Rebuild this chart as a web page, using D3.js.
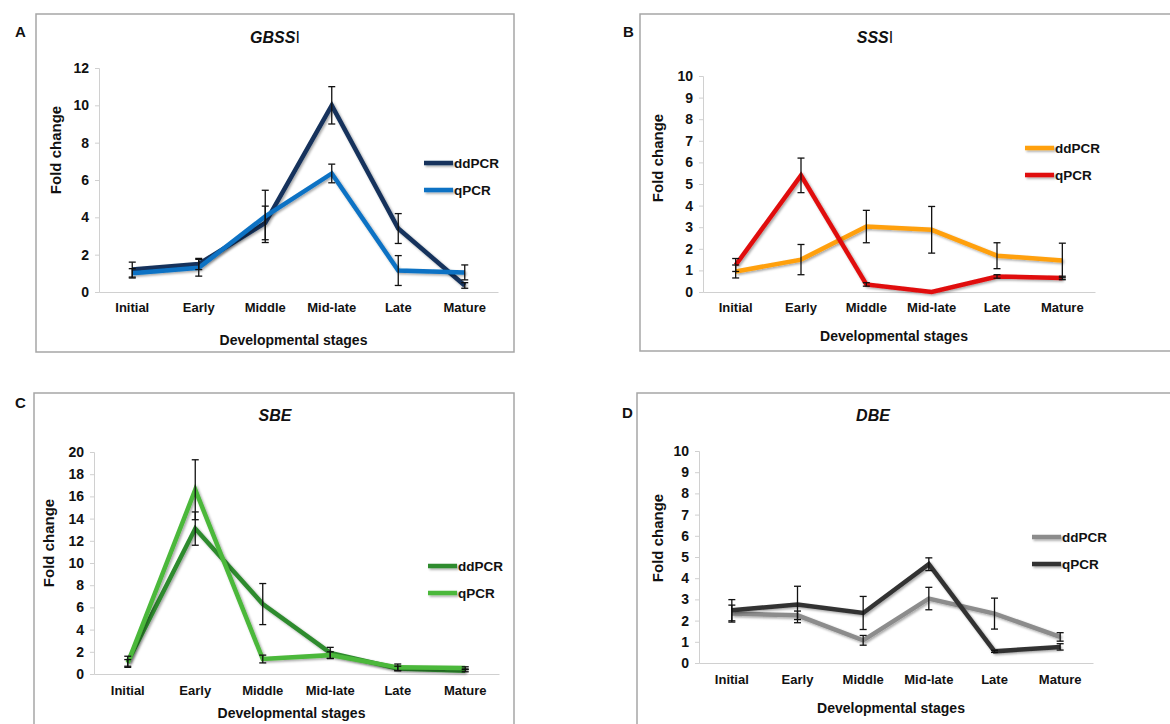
<!DOCTYPE html>
<html>
<head>
<meta charset="utf-8">
<script src="https://cdn.jsdelivr.net/npm/d3@7"></script>
<style>
  body { margin: 0; background: #fff; }
  svg { display: block; font-family: "Liberation Sans", Arial, sans-serif; }
  .tick text { font-weight: bold; font-size: 13px; fill: #111; }
  .yax .tick text { font-size: 14px; }
</style>
</head>
<body>
<script>
// stages on the x axis
var stages = ["Initial", "Early", "Middle", "Mid-late", "Late", "Mature"];

// A  GBSSI
var gbssDd = [1.2, 1.5, 3.7, 10.0, 3.4, 0.35];
var gbssDdErr = [0.4, 0.3, 0.9, 1.0, 0.8, 0.15];
var gbssQ = [1.0, 1.3, 4.05, 6.35, 1.15, 1.05];
var gbssQErr = [0.25, 0.45, 1.4, 0.5, 0.8, 0.4];

// B  SSSI
var sssDd = [0.95, 1.5, 3.03, 2.88, 1.68, 1.46];
var sssDdErr = [0.3, 0.7, 0.75, 1.08, 0.6, 0.8];
var sssQ = [1.25, 5.4, 0.35, 0.0, 0.72, 0.65];
var sssQErr = [0.3, 0.8, 0.08, 0.0, 0.08, 0.08];

// C  SBE
var sbeDd = [1.1, 13.1, 6.3, 1.9, 0.5, 0.3];
var sbeDdErr = [0.5, 1.5, 1.85, 0.5, 0.2, 0.1];
var sbeQ = [1.0, 16.6, 1.35, 1.7, 0.6, 0.55];
var sbeQErr = [0.3, 2.7, 0.35, 0.3, 0.3, 0.1];

// D  DBE
var dbeDd = [2.33, 2.25, 1.07, 3.04, 2.33, 1.23];
var dbeDdErr = [0.4, 0.2, 0.23, 0.53, 0.73, 0.2];
var dbeQ = [2.49, 2.76, 2.36, 4.66, 0.55, 0.76];
var dbeQErr = [0.5, 0.86, 0.78, 0.3, 0.05, 0.15];

var yTicksA = [0, 2, 4, 6, 8, 10, 12];
var yTicksB = [0, 1, 2, 3, 4, 5, 6, 7, 8, 9, 10];
var yTicksC = [0, 2, 4, 6, 8, 10, 12, 14, 16, 18, 20];
var yTicksD = [0, 1, 2, 3, 4, 5, 6, 7, 8, 9, 10];

var svg = d3.select("body").append("svg")
    .attr("width", 1170)
    .attr("height", 724);

// soft excel-ish shadow under the lines (user space so flat lines keep it)
var filt = svg.append("defs").append("filter").attr("id", "shadow")
    .attr("filterUnits", "userSpaceOnUse")
    .attr("x", 0).attr("y", 0).attr("width", 1170).attr("height", 724);
filt.append("feDropShadow").attr("dx", 1.5).attr("dy", 1.5)
    .attr("stdDeviation", 1.2).attr("flood-color", "#000").attr("flood-opacity", 0.35);

var panels = [
  {letter: "A", lx: 15, ly: 37, frame: [36, 14, 514, 352], title: "GBSS", titleTail: "I",
   tx: 275, ty: 43, x0: 99, x1: 498, y0: 292, y1: 68, max: 12, ticks: yTicksA,
   ylx: 61, yly: 150, xty: 345, tly: 313,
   dd: gbssDd, ddErr: gbssDdErr, q: gbssQ, qErr: gbssQErr,
   ddColor: "#14335c", qColor: "#0a72c4", legX: 424, legY: 163},
  {letter: "B", lx: 623, ly: 37, frame: [640, 14, 1190, 351], title: "SSS", titleTail: "I",
   tx: 875, ty: 43, x0: 703, x1: 1095, y0: 292, y1: 76, max: 10, ticks: yTicksB,
   ylx: 663, yly: 158, xty: 341, tly: 313,
   dd: sssDd, ddErr: sssDdErr, q: sssQ, qErr: sssQErr,
   ddColor: "#ffa010", qColor: "#e00c0c", legX: 1025, legY: 148},
  {letter: "C", lx: 15, ly: 408, frame: [34, 393, 514, 740], title: "SBE", titleTail: "",
   tx: 275, ty: 421, x0: 94, x1: 499, y0: 674, y1: 452, max: 20, ticks: yTicksC,
   ylx: 54, yly: 543, xty: 718, tly: 696,
   dd: sbeDd, ddErr: sbeDdErr, q: sbeQ, qErr: sbeQErr,
   ddColor: "#2e8b2e", qColor: "#4cb83a", legX: 428, legY: 566},
  {letter: "D", lx: 622, ly: 418, frame: [637, 393, 1190, 740], title: "DBE", titleTail: "",
   tx: 873, ty: 421, x0: 699, x1: 1093, y0: 663, y1: 451, max: 10, ticks: yTicksD,
   ylx: 663, yly: 538, xty: 713, tly: 685,
   dd: dbeDd, ddErr: dbeDdErr, q: dbeQ, qErr: dbeQErr,
   ddColor: "#8c8c8c", qColor: "#333333", legX: 1032, legY: 537}
];

panels.forEach(function(p) {
  var g = svg.append("g");

  g.append("text").attr("x", p.lx).attr("y", p.ly)
    .attr("font-weight", "bold").attr("font-size", 15).attr("fill", "#111")
    .text(p.letter);

  g.append("rect")
    .attr("x", p.frame[0]).attr("y", p.frame[1])
    .attr("width", p.frame[2] - p.frame[0]).attr("height", p.frame[3] - p.frame[1])
    .attr("fill", "none").attr("stroke", "#a6a6a6").attr("stroke-width", 1.5);

  var t = g.append("text").attr("x", p.tx).attr("y", p.ty)
    .attr("text-anchor", "middle").attr("font-size", 16).attr("font-weight", "bold").attr("fill", "#111");
  t.append("tspan").attr("font-style", "italic").text(p.title);
  if (p.titleTail) t.append("tspan").attr("font-weight", "normal").text(p.titleTail);

  var x = d3.scaleBand().domain(stages).range([p.x0, p.x1]);
  var y = d3.scaleLinear().domain([0, p.max]).range([p.y0, p.y1]);
  var cx = function(i) { return x(stages[i]) + x.bandwidth() / 2; };

  // y axis
  var ya = g.append("g").attr("class", "yax").attr("transform", "translate(" + p.x0 + ",0)")
    .call(d3.axisLeft(y).tickValues(p.ticks).tickSize(4).tickPadding(6).tickFormat(d3.format("d")));
  ya.select(".domain").attr("stroke", "#d0d0d0");
  ya.selectAll(".tick line").attr("stroke", "#d0d0d0");

  // x axis
  var xa = g.append("g").attr("transform", "translate(0," + p.y0 + ")")
    .call(d3.axisBottom(x).tickSize(0).tickPadding(p.tly - p.y0 - 10));
  xa.select(".domain").attr("stroke", "#d0d0d0");

  g.append("text").attr("transform", "translate(" + p.ylx + "," + p.yly + ") rotate(-90)")
    .attr("text-anchor", "middle").attr("font-size", 15).attr("font-weight", "bold").attr("fill", "#111")
    .text("Fold change");

  g.append("text").attr("x", (p.x0 + p.x1) / 2 - 5).attr("y", p.xty)
    .attr("text-anchor", "middle").attr("font-size", 14).attr("font-weight", "bold").attr("fill", "#111")
    .text("Developmental stages");

  var line = d3.line().x(function(d, i) { return cx(i); }).y(function(d) { return y(d); });

  var series = [
    {vals: p.dd, err: p.ddErr, color: p.ddColor, name: "ddPCR"},
    {vals: p.q, err: p.qErr, color: p.qColor, name: "qPCR"}
  ];

  series.forEach(function(s) {
    g.append("path").datum(s.vals)
      .attr("d", line).attr("fill", "none")
      .attr("stroke", s.color).attr("stroke-width", 4.5)
      .attr("stroke-linejoin", "miter").attr("filter", "url(#shadow)");
  });

  series.forEach(function(s) {
    s.vals.forEach(function(v, i) {
      if (!s.err[i]) return;
      var top = y(Math.min(p.max, v + s.err[i])), bot = y(Math.max(0, v - s.err[i]));
      var eg = g.append("g").attr("stroke", "#111").attr("stroke-width", 1.3);
      eg.append("line").attr("x1", cx(i)).attr("x2", cx(i)).attr("y1", top).attr("y2", bot);
      eg.append("line").attr("x1", cx(i) - 3.5).attr("x2", cx(i) + 3.5).attr("y1", top).attr("y2", top);
      eg.append("line").attr("x1", cx(i) - 3.5).attr("x2", cx(i) + 3.5).attr("y1", bot).attr("y2", bot);
    });
  });

  // legend
  series.forEach(function(s, k) {
    var ly = p.legY + k * 27;
    g.append("line").attr("x1", p.legX).attr("x2", p.legX + 29)
      .attr("y1", ly).attr("y2", ly)
      .attr("stroke", s.color).attr("stroke-width", 4.5).attr("filter", "url(#shadow)");
    g.append("text").attr("x", p.legX + 30).attr("y", ly + 5)
      .attr("font-size", 13.5).attr("font-weight", "bold").attr("fill", "#111")
      .text(s.name);
  });
});
</script>
</body>
</html>
